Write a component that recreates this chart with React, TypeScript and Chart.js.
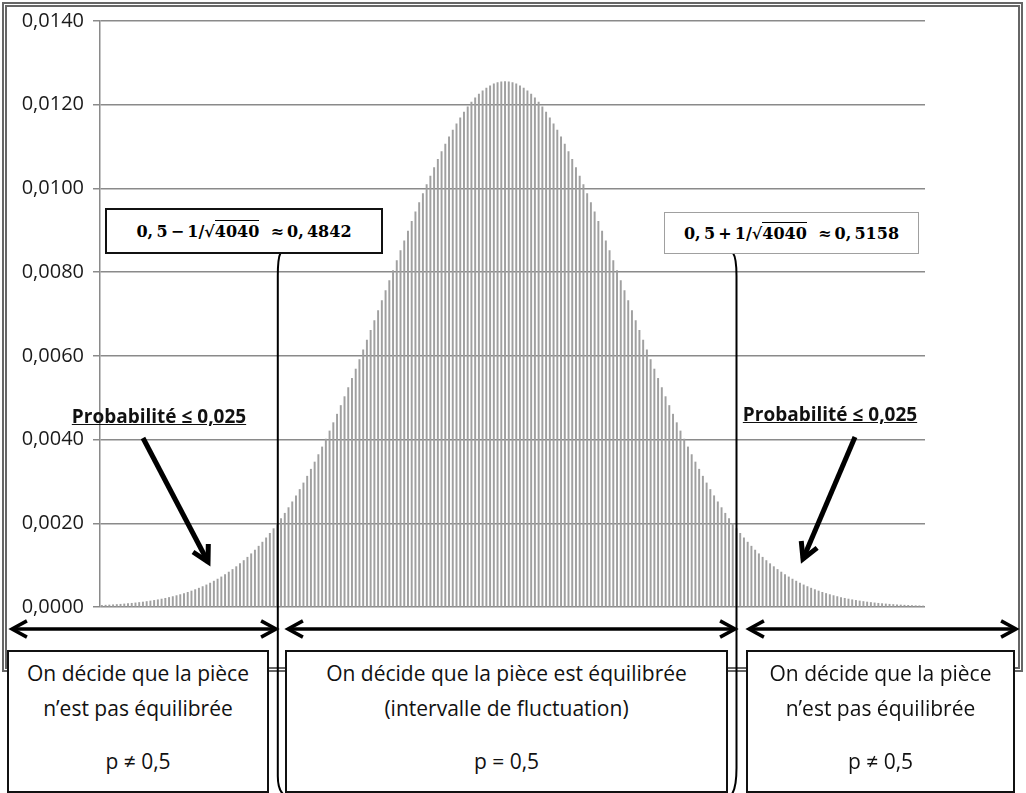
import React, { useEffect, useRef } from "react";
import { Chart, registerables } from "chart.js";

Chart.register(...registerables);

// k = number of "pile" out of n = 4040 tosses
const categories = [
  1912, 1913, 1914, 1915, 1916, 1917, 1918, 1919, 1920, 1921, 1922, 1923, 1924, 1925, 1926, 1927, 1928, 1929, 1930, 1931,
  1932, 1933, 1934, 1935, 1936, 1937, 1938, 1939, 1940, 1941, 1942, 1943, 1944, 1945, 1946, 1947, 1948, 1949, 1950, 1951,
  1952, 1953, 1954, 1955, 1956, 1957, 1958, 1959, 1960, 1961, 1962, 1963, 1964, 1965, 1966, 1967, 1968, 1969, 1970, 1971,
  1972, 1973, 1974, 1975, 1976, 1977, 1978, 1979, 1980, 1981, 1982, 1983, 1984, 1985, 1986, 1987, 1988, 1989, 1990, 1991,
  1992, 1993, 1994, 1995, 1996, 1997, 1998, 1999, 2000, 2001, 2002, 2003, 2004, 2005, 2006, 2007, 2008, 2009, 2010, 2011,
  2012, 2013, 2014, 2015, 2016, 2017, 2018, 2019, 2020, 2021, 2022, 2023, 2024, 2025, 2026, 2027, 2028, 2029, 2030, 2031,
  2032, 2033, 2034, 2035, 2036, 2037, 2038, 2039, 2040, 2041, 2042, 2043, 2044, 2045, 2046, 2047, 2048, 2049, 2050, 2051,
  2052, 2053, 2054, 2055, 2056, 2057, 2058, 2059, 2060, 2061, 2062, 2063, 2064, 2065, 2066, 2067, 2068, 2069, 2070, 2071,
  2072, 2073, 2074, 2075, 2076, 2077, 2078, 2079, 2080, 2081, 2082, 2083, 2084, 2085, 2086, 2087, 2088, 2089, 2090, 2091,
  2092, 2093, 2094, 2095, 2096, 2097, 2098, 2099, 2100, 2101, 2102, 2103, 2104, 2105, 2106, 2107, 2108, 2109, 2110, 2111,
  2112, 2113, 2114, 2115, 2116, 2117, 2118, 2119, 2120, 2121, 2122, 2123, 2124, 2125, 2126, 2127, 2128, 2129, 2130, 2131,
  2132,
];

// P(X = k)
const probabilities = [
  0.000039, 0.0000434, 0.0000482, 0.0000535, 0.0000593, 0.0000657, 0.0000728, 0.0000805, 0.0000889, 0.0000981,
  0.000108, 0.000119, 0.000131, 0.000144, 0.000158, 0.000173, 0.00019, 0.000208, 0.000228, 0.000249,
  0.000272, 0.000296, 0.000323, 0.000351, 0.000382, 0.000415, 0.00045, 0.000488, 0.000528, 0.000571,
  0.000618, 0.000667, 0.000719, 0.000775, 0.000835, 0.000897, 0.000964, 0.001035, 0.00111, 0.001189,
  0.001272, 0.00136, 0.001453, 0.00155, 0.001652, 0.00176, 0.001872, 0.00199, 0.002112, 0.00224,
  0.002374, 0.002513, 0.002658, 0.002808, 0.002964, 0.003125, 0.003292, 0.003464, 0.003641, 0.003824,
  0.004012, 0.004206, 0.004404, 0.004607, 0.004814, 0.005026, 0.005242, 0.005462, 0.005685, 0.005912,
  0.006142, 0.006374, 0.006609, 0.006845, 0.007083, 0.007322, 0.007561, 0.007801, 0.00804, 0.008278,
  0.008515, 0.00875, 0.008983, 0.009212, 0.009439, 0.009661, 0.009878, 0.010091, 0.010298, 0.010499,
  0.010693, 0.01088, 0.011059, 0.01123, 0.011392, 0.011546, 0.011689, 0.011823, 0.011947, 0.01206,
  0.012162, 0.012252, 0.012331, 0.012399, 0.012454, 0.012497, 0.012528, 0.012547,
  0.012553,
  0.012547, 0.012528, 0.012497, 0.012454, 0.012399, 0.012331, 0.012252, 0.012162, 0.01206, 0.011947,
  0.011823, 0.011689, 0.011546, 0.011392, 0.01123, 0.011059, 0.01088, 0.010693, 0.010499, 0.010298,
  0.010091, 0.009878, 0.009661, 0.009439, 0.009212, 0.008983, 0.00875, 0.008515, 0.008278, 0.00804,
  0.007801, 0.007561, 0.007322, 0.007083, 0.006845, 0.006609, 0.006374, 0.006142, 0.005912, 0.005685,
  0.005462, 0.005242, 0.005026, 0.004814, 0.004607, 0.004404, 0.004206, 0.004012, 0.003824, 0.003641,
  0.003464, 0.003292, 0.003125, 0.002964, 0.002808, 0.002658, 0.002513, 0.002374, 0.00224, 0.002112,
  0.00199, 0.001872, 0.00176, 0.001652, 0.00155, 0.001453, 0.00136, 0.001272, 0.001189, 0.00111,
  0.001035, 0.000964, 0.000897, 0.000835, 0.000775, 0.000719, 0.000667, 0.000618, 0.000571, 0.000528,
  0.000488, 0.00045, 0.000415, 0.000382, 0.000351, 0.000323, 0.000296, 0.000272, 0.000249, 0.000228,
  0.000208, 0.00019, 0.000173, 0.000158, 0.000144, 0.000131, 0.000119, 0.000108, 0.0000981, 0.0000889,
  0.0000805, 0.0000728, 0.0000657, 0.0000593, 0.0000535, 0.0000482, 0.0000434, 0.000039, 0.000035, 0.0000314,
  0.0000282, 0.0000252,
];

const yTickValues = [0, 0.002, 0.004, 0.006, 0.008, 0.01, 0.012, 0.014];
const yTickLabels = ["0,0000", "0,0020", "0,0040", "0,0060", "0,0080", "0,0100", "0,0120", "0,0140"];

const boundLow = "0,4842";
const boundHigh = "0,5158";
const probLabel = "Probabilité ≤ 0,025";
const outerBoxLines = ["On décide que la pièce", "n’est pas équilibrée", "p ≠ 0,5"];
const middleBoxLines = ["On décide que la pièce est équilibrée", "(intervalle de fluctuation)", "p = 0,5"];

const SANS = "'Open Sans', 'Noto Sans', sans-serif";
const SERIF = "'DejaVu Serif', 'Liberation Serif', serif";

function chevron(ctx: CanvasRenderingContext2D, tipX: number, tipY: number, angle: number, len: number, spread: number) {
  ctx.beginPath();
  ctx.moveTo(tipX - len * Math.cos(angle - spread), tipY - len * Math.sin(angle - spread));
  ctx.lineTo(tipX, tipY);
  ctx.lineTo(tipX - len * Math.cos(angle + spread), tipY - len * Math.sin(angle + spread));
  ctx.stroke();
}

function arrow(ctx: CanvasRenderingContext2D, x1: number, y1: number, x2: number, y2: number, both: boolean, len: number) {
  ctx.beginPath();
  ctx.moveTo(x1, y1);
  ctx.lineTo(x2, y2);
  ctx.stroke();
  const a = Math.atan2(y2 - y1, x2 - x1);
  chevron(ctx, x2, y2, a, len, 0.5);
  if (both) chevron(ctx, x1, y1, a + Math.PI, len, 0.5);
}

const annotationPlugin = {
  id: "annotations",
  afterDraw(chart: any) {
    const ctx: CanvasRenderingContext2D = chart.ctx;
    ctx.save();
    ctx.strokeStyle = "#000";
    ctx.lineJoin = "miter";
    ctx.lineCap = "butt";
    // bracket lines from the bound labels down through the decision boxes
    ctx.lineWidth = 2;
    ctx.beginPath();
    ctx.moveTo(280.5, 253);
    ctx.quadraticCurveTo(277.8, 258, 277.8, 276);
    ctx.lineTo(277.8, 776);
    ctx.quadraticCurveTo(277.8, 789, 283, 794);
    ctx.stroke();
    ctx.beginPath();
    ctx.moveTo(733, 253);
    ctx.quadraticCurveTo(736.5, 258, 736.5, 276);
    ctx.lineTo(736.5, 768);
    ctx.quadraticCurveTo(736.5, 787, 732, 794);
    ctx.stroke();
    // horizontal double arrows
    ctx.lineWidth = 3.5;
    arrow(ctx, 12, 629, 276, 629, true, 17);
    arrow(ctx, 288, 629, 735, 629, true, 17);
    arrow(ctx, 749, 629, 1016, 629, true, 17);
    // diagonal arrows
    ctx.lineWidth = 5;
    arrow(ctx, 143, 438, 208, 562, false, 18);
    arrow(ctx, 855, 437, 803, 559, false, 18);
    ctx.restore();
  },
};

function TextLine({ text, cy, size, bold }: { text: string; cy: number; size: number; bold?: boolean }) {
  return (
    <div
      style={{
        position: "absolute",
        left: 0,
        right: 0,
        top: cy - 15,
        height: 30,
        lineHeight: "30px",
        textAlign: "center",
        fontFamily: SANS,
        fontSize: size,
        fontWeight: bold ? 700 : 400,
        color: "#111",
        whiteSpace: "nowrap",
      }}
    >
      {text}
    </div>
  );
}

function DecisionBox({ left, width, lines }: { left: number; width: number; lines: string[] }) {
  return (
    <div
      style={{
        position: "absolute",
        left,
        top: 650,
        width,
        height: 143,
        boxSizing: "border-box",
        border: "2px solid #111",
        background: "#fff",
      }}
    >
      <TextLine text={lines[0]} cy={21} size={21} />
      <TextLine text={lines[1]} cy={56} size={21} />
      <TextLine text={lines[2]} cy={109} size={21} />
    </div>
  );
}

function BoundBox({ left, top, width, height, sign, value, border }: any) {
  return (
    <div
      style={{
        position: "absolute",
        left,
        top,
        width,
        height,
        boxSizing: "border-box",
        border,
        background: "#fff",
        display: "flex",
        alignItems: "center",
        justifyContent: "center",
        fontFamily: SERIF,
        fontWeight: 700,
        fontSize: 16,
        color: "#000",
        whiteSpace: "nowrap",
      }}
    >
      <span>
        0,&#8201;5&#8201;{sign}&#8201;1/√<span style={{ borderTop: "1.5px solid #000", paddingTop: 1 }}>4040</span>
        &nbsp;&nbsp;≈&#8201;0,&#8201;{value.slice(2)}
      </span>
    </div>
  );
}

export default function App() {
  const canvasRef = useRef<HTMLCanvasElement | null>(null);

  useEffect(() => {
    const canvas = canvasRef.current;
    if (!canvas) return;
    const chart = new Chart(canvas, {
      type: "bar",
      data: {
        labels: categories.map(String),
        datasets: [
          {
            data: probabilities,
            backgroundColor: "#a0a0a0",
            borderWidth: 0,
            barThickness: 1.3,
          },
        ],
      },
      options: {
        responsive: false,
        animation: false,
        devicePixelRatio: 1,
        layout: { padding: { left: 0, top: 20, right: 101, bottom: 186 } },
        plugins: { legend: { display: false }, tooltip: { enabled: false } },
        scales: {
          x: { display: false },
          y: {
            min: 0,
            max: 0.014,
            afterFit: (scale: any) => {
              scale.width = 100;
            },
            afterBuildTicks: (scale: any) => {
              scale.ticks = yTickValues.map((v) => ({ value: v }));
            },
            ticks: {
              padding: 9,
              color: "#1a1a1a",
              font: { family: SANS, size: 20 },
              callback: (_v: any, i: number) => yTickLabels[i],
            },
            grid: { color: "#8a8a8a", lineWidth: 1.5, tickLength: 7, drawTicks: true },
            border: { display: true, color: "#8a8a8a", width: 1.5 },
          },
        },
      },
      plugins: [annotationPlugin],
    });
    return () => chart.destroy();
  }, []);

  return (
    <div style={{ position: "fixed", left: 0, top: 0, width: 1026, height: 793, background: "#fff", overflow: "hidden" }}>
      <div
        style={{
          position: "absolute",
          left: 2,
          top: 2,
          width: 1021,
          height: 670,
          boxSizing: "border-box",
          border: "5px double #666",
        }}
      />
      <canvas ref={canvasRef} width={1026} height={793} style={{ position: "absolute", left: 0, top: 0 }} />
      <BoundBox left={105} top={208} width={278} height={46} sign="−" value={boundLow} border="2px solid #111" />
      <BoundBox left={664} top={212} width={255} height={42} sign="+" value={boundHigh} border="1px solid #a0a0a0" />
      <div style={{ position: "absolute", left: 60, top: 403, width: 198, textAlign: "center", fontFamily: SANS, fontWeight: 700, fontSize: 19, textDecoration: "underline", color: "#111", whiteSpace: "nowrap" }}>
        {probLabel}
      </div>
      <div style={{ position: "absolute", left: 731, top: 401, width: 198, textAlign: "center", fontFamily: SANS, fontWeight: 700, fontSize: 19, textDecoration: "underline", color: "#111", whiteSpace: "nowrap" }}>
        {probLabel}
      </div>
      <DecisionBox left={7} width={262} lines={outerBoxLines} />
      <DecisionBox left={285} width={443} lines={middleBoxLines} />
      <DecisionBox left={746} width={269} lines={outerBoxLines} />
    </div>
  );
}
